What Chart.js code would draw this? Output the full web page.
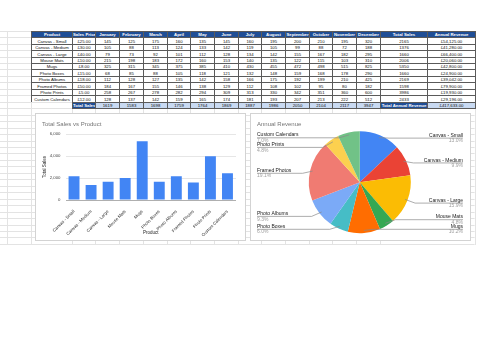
<!DOCTYPE html>
<html><head><meta charset="utf-8">
<script src="https://cdn.jsdelivr.net/npm/chart.js@4.4.1/dist/chart.umd.min.js"></script>
<style>
html,body{margin:0;padding:0;background:#fff;width:500px;height:353px;overflow:hidden;}
#grid{position:absolute;left:0;top:0;}
#tbl{position:absolute;left:0;top:0;font-family:"Liberation Sans",Arial,sans-serif;font-size:4.3px;color:#111;}
.c{position:absolute;box-sizing:border-box;border-left:1px solid #5a5a5a;border-top:1px solid #5a5a5a;background:#fff;text-align:center;white-space:nowrap;overflow:hidden;}
.h{background:#1f4e96;color:#fff;font-weight:bold;}
.t{background:#c9daf2;}
.box{position:absolute;background:#fff;border:1px solid #d3d3d3;box-sizing:border-box;}
canvas{position:absolute;left:0;top:0;}
</style></head>
<body>
<svg id="grid" width="500" height="353"></svg>
<div id="tbl"></div>
<div class="box" id="barBox" style="left:35px;top:113px;width:211px;height:128px;"><canvas id="bar" width="209" height="126"></canvas></div>
<div class="box" id="pieBox" style="left:250px;top:113px;width:221px;height:128px;"><canvas id="pie" width="219" height="126"></canvas></div>
<script>
// ---------- data ----------
const products = ["Canvas - Small","Canvas - Medium","Canvas - Large","Mouse Mats","Mugs","Photo Boxes","Photo Albums","Framed Photos","Photo Prints","Custom Calendars"];
const salesPrice = [25,30,40,10,8,15,18,50,5,12];
const months = ["January","February","March","April","May","June","July","August","September","October","November","December"];
const canvasSmall   = [145,125,175,160,135,145,160,195,200,210,195,320];
const canvasMedium  = [105,88,113,124,133,142,119,105,99,88,72,188];
const canvasLarge   = [79,73,92,101,112,128,134,142,155,167,182,295];
const mouseMats     = [215,198,183,172,160,153,140,135,122,115,103,310];
const mugs          = [325,315,345,375,385,410,430,455,472,498,515,825];
const photoBoxes    = [68,85,88,105,118,121,132,148,159,168,178,290];
const photoAlbums   = [112,128,127,135,142,158,166,175,192,199,210,425];
const framedPhotos  = [184,167,155,146,138,129,112,108,102,95,80,182];
const photoPrints   = [258,267,278,282,294,309,313,330,342,351,360,600];
const customCalendars = [128,137,142,159,165,174,181,193,207,213,222,512];
const monthTotals = [1619,1583,1698,1759,1764,1869,1887,1986,2050,2104,2117,3947];
const totalSales = [2165,1376,1660,2006,5350,1660,2169,1598,3986,2433];
const annualRevenue = [54125,41280,66400,20060,42800,24900,39042,79900,19930,29196];
const totalAnnualRevenue = 417633;
const yTicks = [0,2000,4000,6000];
const pieColors = ["#4285f4","#ea4335","#fbbc04","#34a853","#ff6d01","#46bdc6","#7baaf7","#f07b72","#fcd04f","#71c287"];
const monthly = [canvasSmall,canvasMedium,canvasLarge,mouseMats,mugs,photoBoxes,photoAlbums,framedPhotos,photoPrints,customCalendars];

// ---------- spreadsheet grid ----------
const rowH = 6.46, top0 = 30.7;
const colEdges = [30.5,71.7];
for(let k=1;k<=13;k++) colEdges.push(+(71.7+23.7*k).toFixed(1));
colEdges.push(427.2, 474.6);
(function(){
  const svg=document.getElementById('grid');
  let s='';
  const gx=[6.8].concat(colEdges.filter((v,i)=>i!==15));
  for(let k=0;k<=33;k++){const y=Math.round(top0+rowH*k)+0.5; s+=`<line x1="0" x2="474.6" y1="${y}" y2="${y}" stroke="#e3e3e3" stroke-width="1"/>`;}
  for(const x of gx){const xx=Math.round(x)+0.5; s+=`<line x1="${xx}" x2="${xx}" y1="${Math.round(top0)}" y2="${Math.round(top0+rowH*33)+1}" stroke="#e3e3e3" stroke-width="1"/>`;}
  svg.innerHTML=s;
})();

// ---------- table ----------
function money(v){const s=v.toFixed(2);const [a,b]=s.split('.');return '£'+a.replace(/\B(?=(\d{3})+(?!\d))/g,',')+'.'+b;}
const tbl=document.getElementById('tbl');
function cell(c0,c1,r,text,cls,lastCol,lastRow){
  const x0=Math.round(colEdges[c0]), x1=Math.round(colEdges[c1]);
  const y0=Math.round(top0+rowH*r), y1=Math.round(top0+rowH*(r+1));
  const d=document.createElement('div');
  d.className='c '+(cls||'');
  d.style.left=x0+'px';d.style.top=y0+'px';
  d.style.width=(x1-x0+(lastCol?1:0))+'px';d.style.height=(y1-y0+(lastRow?1:0))+'px';
  d.style.lineHeight=(y1-y0)+'px';
  if(lastCol)d.style.borderRight='1px solid #5a5a5a';
  if(lastRow)d.style.borderBottom='1px solid #5a5a5a';
  d.textContent=text;tbl.appendChild(d);
}
const header=["Product","Sales Price"].concat(months,["Total Sales","Annual Revenue"]);
header.forEach((h,i)=>cell(i,i+1,0,h,'h',i===15,false));
products.forEach((p,r)=>{
  const row=[p,money(salesPrice[r])].concat(monthly[r].map(String),[String(totalSales[r]),money(annualRevenue[r])]);
  row.forEach((v,i)=>cell(i,i+1,r+1,v,'',i===15,false));
});
cell(1,2,11,"Total Sales",'h',false,true);
monthTotals.forEach((v,i)=>cell(i+2,i+3,11,String(v),'t',false,true));
cell(14,15,11,"Total Annual Revenue",'h',false,true);
cell(15,16,11,money(totalAnnualRevenue),'t',true,true);

// ---------- bar chart ----------
const FONT="'Liberation Sans', Arial, sans-serif";
new Chart(document.getElementById('bar'),{
  type:'bar',
  data:{labels:products,datasets:[{data:totalSales,backgroundColor:'#4285f4',categoryPercentage:0.8,barPercentage:0.8}]},
  options:{
    responsive:false,animation:false,devicePixelRatio:1,
    layout:{padding:{left:6,right:9,top:0,bottom:0}},
    plugins:{legend:{display:false},tooltip:{enabled:false},
      title:{display:true,text:'Total Sales vs Product',align:'start',color:'#757575',font:{family:FONT,size:6,weight:'normal'},padding:{top:7,bottom:6}}},
    scales:{
      x:{grid:{display:false},border:{display:false},
        ticks:{minRotation:45,maxRotation:45,autoSkip:false,color:'#222',font:{family:FONT,size:4.3},padding:1},
        title:{display:true,text:'Product',color:'#222',font:{family:FONT,size:4.5},padding:{top:0,bottom:5}},
        afterFit(s){s.height=40;}},
      y:{min:0,max:6000,afterBuildTicks(s){s.ticks=yTicks.map(v=>({value:v}));},
        grid:{drawTicks:false,color:c=>c.tick&&c.tick.value===0?'#9a9a9a':'#e0e0e0',lineWidth:0.8},border:{display:false},
        ticks:{color:'#444',font:{family:FONT,size:4.3},padding:5},
        title:{display:true,text:'Total Sales',color:'#222',font:{family:FONT,size:4.5},padding:0},
        afterFit(s){s.width=23.5;}}
    }
  }
});

// ---------- pie chart ----------
const pieLabels={
  id:'pieLabels',
  afterDatasetsDraw(chart){
    const ctx=chart.ctx, meta=chart.getDatasetMeta(0), data=chart.data.datasets[0].data;
    const sum=data.reduce((a,b)=>a+b,0);
    const items=meta.data.map((arc,i)=>{
      const mid=(arc.startAngle+arc.endAngle)/2, r=arc.outerRadius;
      return {i,ax:arc.x+Math.cos(mid)*r*0.95,ay:arc.y+Math.sin(mid)*r*0.95,y:arc.y+Math.sin(mid)*r,right:Math.cos(mid)>=0};
    });
    const gap=9.6,minY=21,maxY=112.5;
    [true,false].forEach(side=>{
      const list=items.filter(o=>o.right===side).sort((a,b)=>a.y-b.y);
      for(let k=0;k<list.length;k++){list[k].y=Math.max(list[k].y,minY,k?list[k-1].y+gap:-1e9);}
      for(let k=list.length-1;k>=0;k--){list[k].y=Math.min(list[k].y,maxY,k<list.length-1?list[k+1].y-gap:1e9);}
    });
    const W=chart.width;
    ctx.save();
    items.forEach(o=>{
      const lx=o.right?W-7:6, ly=o.y+2.8, knee=o.right?o.ax+10:o.ax-10;
      ctx.strokeStyle='#8a8a8a';ctx.lineWidth=0.7;
      ctx.beginPath();ctx.moveTo(lx,ly);ctx.lineTo(knee,ly);ctx.lineTo(o.ax,o.ay);ctx.stroke();
      ctx.textAlign=o.right?'right':'left';ctx.textBaseline='middle';
      ctx.font=`5px ${FONT}`;ctx.fillStyle='#222';
      ctx.fillText(chart.data.labels[o.i],lx,o.y);
      ctx.fillStyle='#9e9e9e';
      ctx.fillText((data[o.i]/sum*100).toFixed(1)+'%',lx,o.y+5.6);
    });
    ctx.restore();
  }
};
new Chart(document.getElementById('pie'),{
  type:'pie',
  data:{labels:products,datasets:[{data:annualRevenue,backgroundColor:pieColors,borderWidth:0}]},
  options:{
    responsive:false,animation:false,devicePixelRatio:1,radius:51,
    layout:{padding:{left:6,right:7.4,top:0,bottom:9.9}},
    plugins:{legend:{display:false},tooltip:{enabled:false},
      title:{display:true,text:'Annual Revenue',align:'start',color:'#757575',font:{family:FONT,size:6,weight:'normal'},padding:{top:7,bottom:6}}}
  },
  plugins:[pieLabels]
});
</script>
</body></html>
